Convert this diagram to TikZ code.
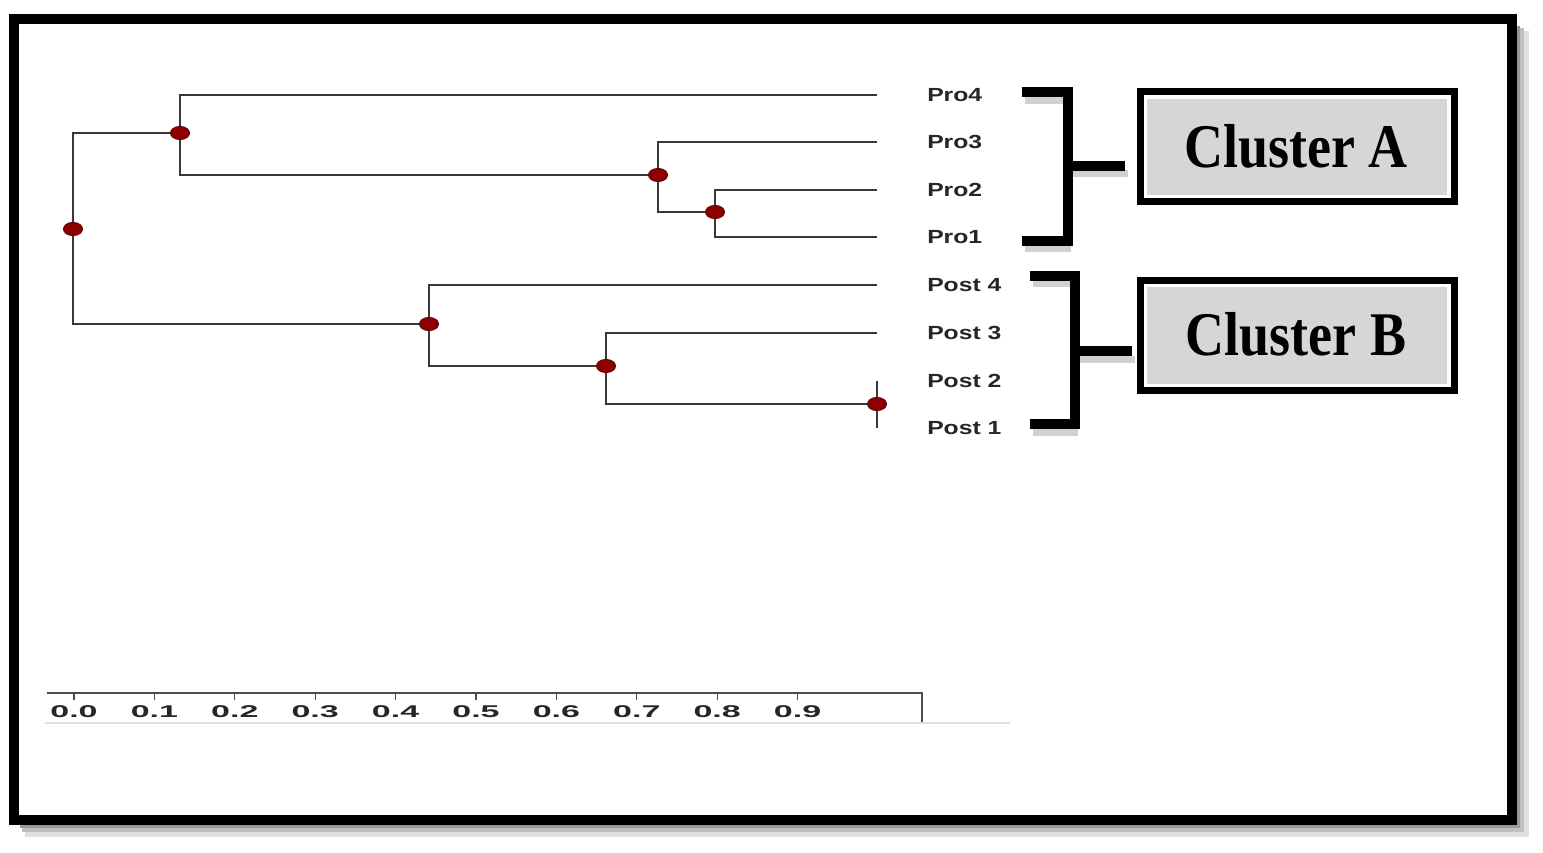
\documentclass[tikz,border=0pt]{standalone}
\usepackage{fontspec}
\newfontfamily\lblfont{Liberation Sans}
\newfontfamily\clfont{Liberation Serif}
\usetikzlibrary{shapes.geometric}
\pgfdeclarelayer{bg}
\pgfsetlayers{bg,main}
\begin{document}
\begin{tikzpicture}[x=1pt,y=-1pt,
  branch/.style={draw=black!78, line width=2.6pt},
  dot/.style={ellipse, fill=red!55!black, draw=black!60!red, line width=1pt, minimum width=19pt, minimum height=13pt, inner sep=0pt},
  leaflabel/.style={anchor=west, inner sep=0pt, font=\lblfont\bfseries\fontsize{19}{20}\selectfont, xscale=1.3, text=black!85},
  ticklabel/.style={inner sep=0pt, font=\lblfont\bfseries\fontsize{17}{18}\selectfont, xscale=2.0, text=black!85},
  bracketline/.style={draw=black, line width=10pt},
  bracketshadow/.style={draw=black!18, line width=7pt},
  clbox/.style={draw=black, line width=7pt, fill=white, minimum width=314pt, minimum height=110pt, inner sep=0pt,
    path picture={\fill[black!16] ([xshift=7pt,yshift=7pt]path picture bounding box.south west) rectangle ([xshift=-7pt,yshift=-7pt]path picture bounding box.north east);}},
  cltext/.style={inner sep=0pt, font=\clfont\bfseries\fontsize{54}{56}\selectfont, yscale=1.15},
  axisline/.style={draw=black!70, line width=1.6pt}
]
\useasboundingbox (0,0) rectangle (1543,853);
\begin{pgfonlayer}{bg}
\fill[white] (0,0) rectangle (1543,853);
\end{pgfonlayer}

% outer frame with soft shadow
\draw[black!12, line width=14pt] (1522,31) -- (1522,830) -- (25,830);
\draw[black!25, line width=9pt] (1519,28) -- (1519,827) -- (22,827);
\draw[black!40, line width=5pt] (1517,26) -- (1517,825) -- (20,825);
\draw[black, line width=10pt] (14,19) rectangle (1512,820);

% leaf ends
\coordinate (L1) at (877,95);
\coordinate (L2) at (877,142);
\coordinate (L3) at (877,190);
\coordinate (L4) at (877,237);
\coordinate (L5) at (877,285);
\coordinate (L6) at (877,333);
\coordinate (L7) at (877,381);
\coordinate (L8) at (877,428);

% internal nodes
\node[dot] (n1) at (73,229) {};
\node[dot] (n2) at (180,133) {};
\node[dot] (n3) at (658,175) {};
\node[dot] (n4) at (715,212) {};
\node[dot] (n5) at (429,324) {};
\node[dot] (n6) at (606,366) {};
\node[dot] (n7) at (877,404) {};

\begin{pgfonlayer}{bg}
\draw[branch] (n1.center) |- (n2.center);
\draw[branch] (n1.center) |- (n5.center);
\draw[branch] (n2.center) |- (L1);
\draw[branch] (n2.center) |- (n3.center);
\draw[branch] (n3.center) |- (L2);
\draw[branch] (n3.center) |- (n4.center);
\draw[branch] (n4.center) |- (L3);
\draw[branch] (n4.center) |- (L4);
\draw[branch] (n5.center) |- (L5);
\draw[branch] (n5.center) |- (n6.center);
\draw[branch] (n6.center) |- (L6);
\draw[branch] (n6.center) |- (n7.center);
\draw[branch] (n7.center) -- (L7);
\draw[branch] (n7.center) -- (L8);
\end{pgfonlayer}

% leaf labels
\node[leaflabel] (t1) at (927,95) {Pro4};
\node[leaflabel] (t2) at (927,142) {Pro3};
\node[leaflabel] (t3) at (927,190) {Pro2};
\node[leaflabel] (t4) at (927,237) {Pro1};
\node[leaflabel] (t5) at (927,285) {Post 4};
\node[leaflabel] (t6) at (927,333) {Post 3};
\node[leaflabel] (t7) at (927,381) {Post 2};
\node[leaflabel] (t8) at (927,428) {Post 1};

% cluster brackets
\coordinate (a1) at (1022,92.5);
\coordinate (a2) at (1068,92.5);
\coordinate (a3) at (1068,241);
\coordinate (a4) at (1022,241);
\coordinate (a5) at (1068,166);
\coordinate (a6) at (1125,166);
\coordinate (b1) at (1030,276);
\coordinate (b2) at (1075,276);
\coordinate (b3) at (1075,424);
\coordinate (b4) at (1030,424);
\coordinate (b5) at (1075,351);
\coordinate (b6) at (1132,351);

\draw[bracketshadow] ([xshift=3pt,yshift=-8pt]a1) -- ([xshift=3pt,yshift=-8pt]a2);
\draw[bracketshadow] ([xshift=3pt,yshift=-8pt]a4) -- ([xshift=3pt,yshift=-8pt]a3);
\draw[bracketshadow] ([xshift=3pt,yshift=-8pt]a5) -- ([xshift=3pt,yshift=-8pt]a6);
\draw[bracketshadow] ([xshift=3pt,yshift=-8pt]b1) -- ([xshift=3pt,yshift=-8pt]b2);
\draw[bracketshadow] ([xshift=3pt,yshift=-8pt]b4) -- ([xshift=3pt,yshift=-8pt]b3);
\draw[bracketshadow] ([xshift=3pt,yshift=-8pt]b5) -- ([xshift=3pt,yshift=-8pt]b6);

\draw[bracketline] (a1) -- (a2) -- (a3) -- (a4);
\draw[bracketline] (a5) -- (a6);
\draw[bracketline] (b1) -- (b2) -- (b3) -- (b4);
\draw[bracketline] (b5) -- (b6);

% cluster boxes
\node[clbox] (boxA) at (1297,147) {};
\node[clbox] (boxB) at (1297,335.5) {};
\node[cltext] (labA) at (1296,146) {Cluster A};
\node[cltext] (labB) at (1296,334) {Cluster B};

% axis
\draw[black!12, line width=2pt] (45,723) -- (1010,723);
\coordinate (ax0) at (47,693);
\coordinate (ax1) at (922,693);
\coordinate (ax2) at (922,722);
\draw[axisline] (ax0) -- (ax1) -- (ax2);
\foreach \i/\lab in {0/0.0,1/0.1,2/0.2,3/0.3,4/0.4,5/0.5,6/0.6,7/0.7,8/0.8,9/0.9}{
  \coordinate (tk\i) at ({74+80.4*\i},693);
  \draw[axisline, line width=1.2pt] (tk\i) -- ++(0,7);
  \node[ticklabel] (al\i) at ({74+80.4*\i},712) {\lab};
}
\end{tikzpicture}
\end{document}
